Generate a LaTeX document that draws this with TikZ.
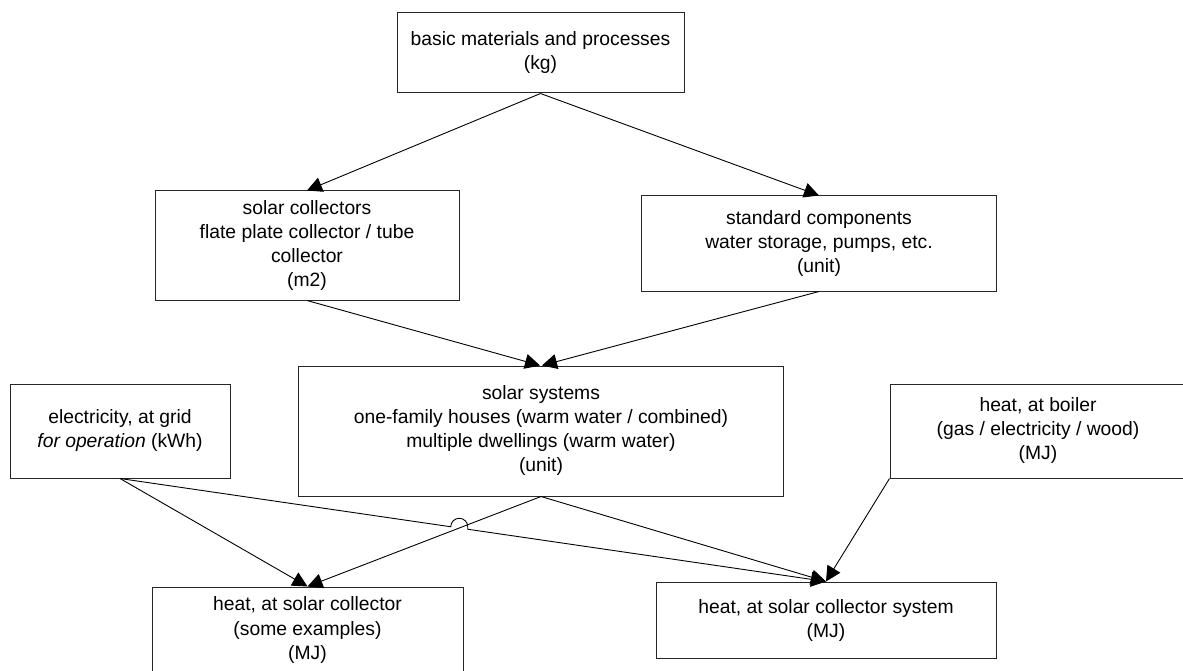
\documentclass[tikz,border=0pt]{standalone}
\usepackage{fontspec}
\setmainfont{Liberation Sans}
\usetikzlibrary{arrows.meta,calc,intersections}
\begin{document}
\begin{tikzpicture}[x=1pt,y=-1pt,
  box/.style={draw=black!85, line width=1pt, align=center, inner sep=0pt,
    font=\fontsize{19.3}{24}\selectfont},
  conn/.style={line width=0.9pt, -{Triangle[length=15pt,width=15pt]}},
]
\useasboundingbox (0,0) rectangle (1183,671);
\clip (0,0) rectangle (1183,671);

% boxes
\node[box, minimum width=287pt, minimum height=80pt] (basic) at (540.5,53)
  {basic materials and processes\\(kg)};
\node[box, minimum width=304pt, minimum height=109pt] (coll) at (307,245.5)
  {solar collectors\\flate plate collector / tube\\collector\\(m2)};
\node[box, minimum width=355.5pt, minimum height=95pt] (std) at (819,243.5)
  {standard components\\water storage, pumps, etc.\\(unit)};
\node[box, minimum width=485pt, minimum height=130pt] (sys) at (541,431)
  {solar systems\\one-family houses (warm water / combined)\\multiple dwellings (warm water)\\(unit)};
\node[box, minimum width=220pt, minimum height=94pt] (elec) at (120,431)
  {electricity, at grid\\\textit{for operation} (kWh)};
\node[box, minimum width=296pt, minimum height=94pt] (boiler) at (1038,431)
  {heat, at boiler\\(gas / electricity / wood)\\(MJ)};
\node[box, minimum width=311pt, minimum height=86pt] (hc) at (307.5,630)
  {heat, at solar collector\\(some examples)\\(MJ)};
\node[box, minimum width=340pt, minimum height=76pt] (hs) at (826,620)
  {heat, at solar collector system\\(MJ)};

% connectors
\draw[conn] (basic.south) -- (coll.north);
\draw[conn] (basic.south) -- (std.north);
\draw[conn] (coll.south) -- ([xshift=-1pt]sys.north);
\draw[conn] (std.south) -- ([xshift=1pt]sys.north);
\draw[conn] (elec.south) -- (hc.north);
\draw[conn] (sys.south) -- (hc.north);
\draw[conn] (sys.south) -- (hs.north);
\draw[conn] (boiler.south west) -- (hs.north);

% electricity line to the system hops over the system-to-collector line
\path[name path=eline] (elec.south) -- (hs.north);
\path[name path=sline] (sys.south) -- (hc.north);
\path[name intersections={of=eline and sline, by=X}];
\draw[conn] (elec.south) -- ($(X)!8.6pt!(elec.south)$)
  arc[start angle=180, end angle=0, radius=8.5pt]
  -- ($(X)!8.6pt!(hs.north)$) -- (hs.north);
\end{tikzpicture}
\end{document}
